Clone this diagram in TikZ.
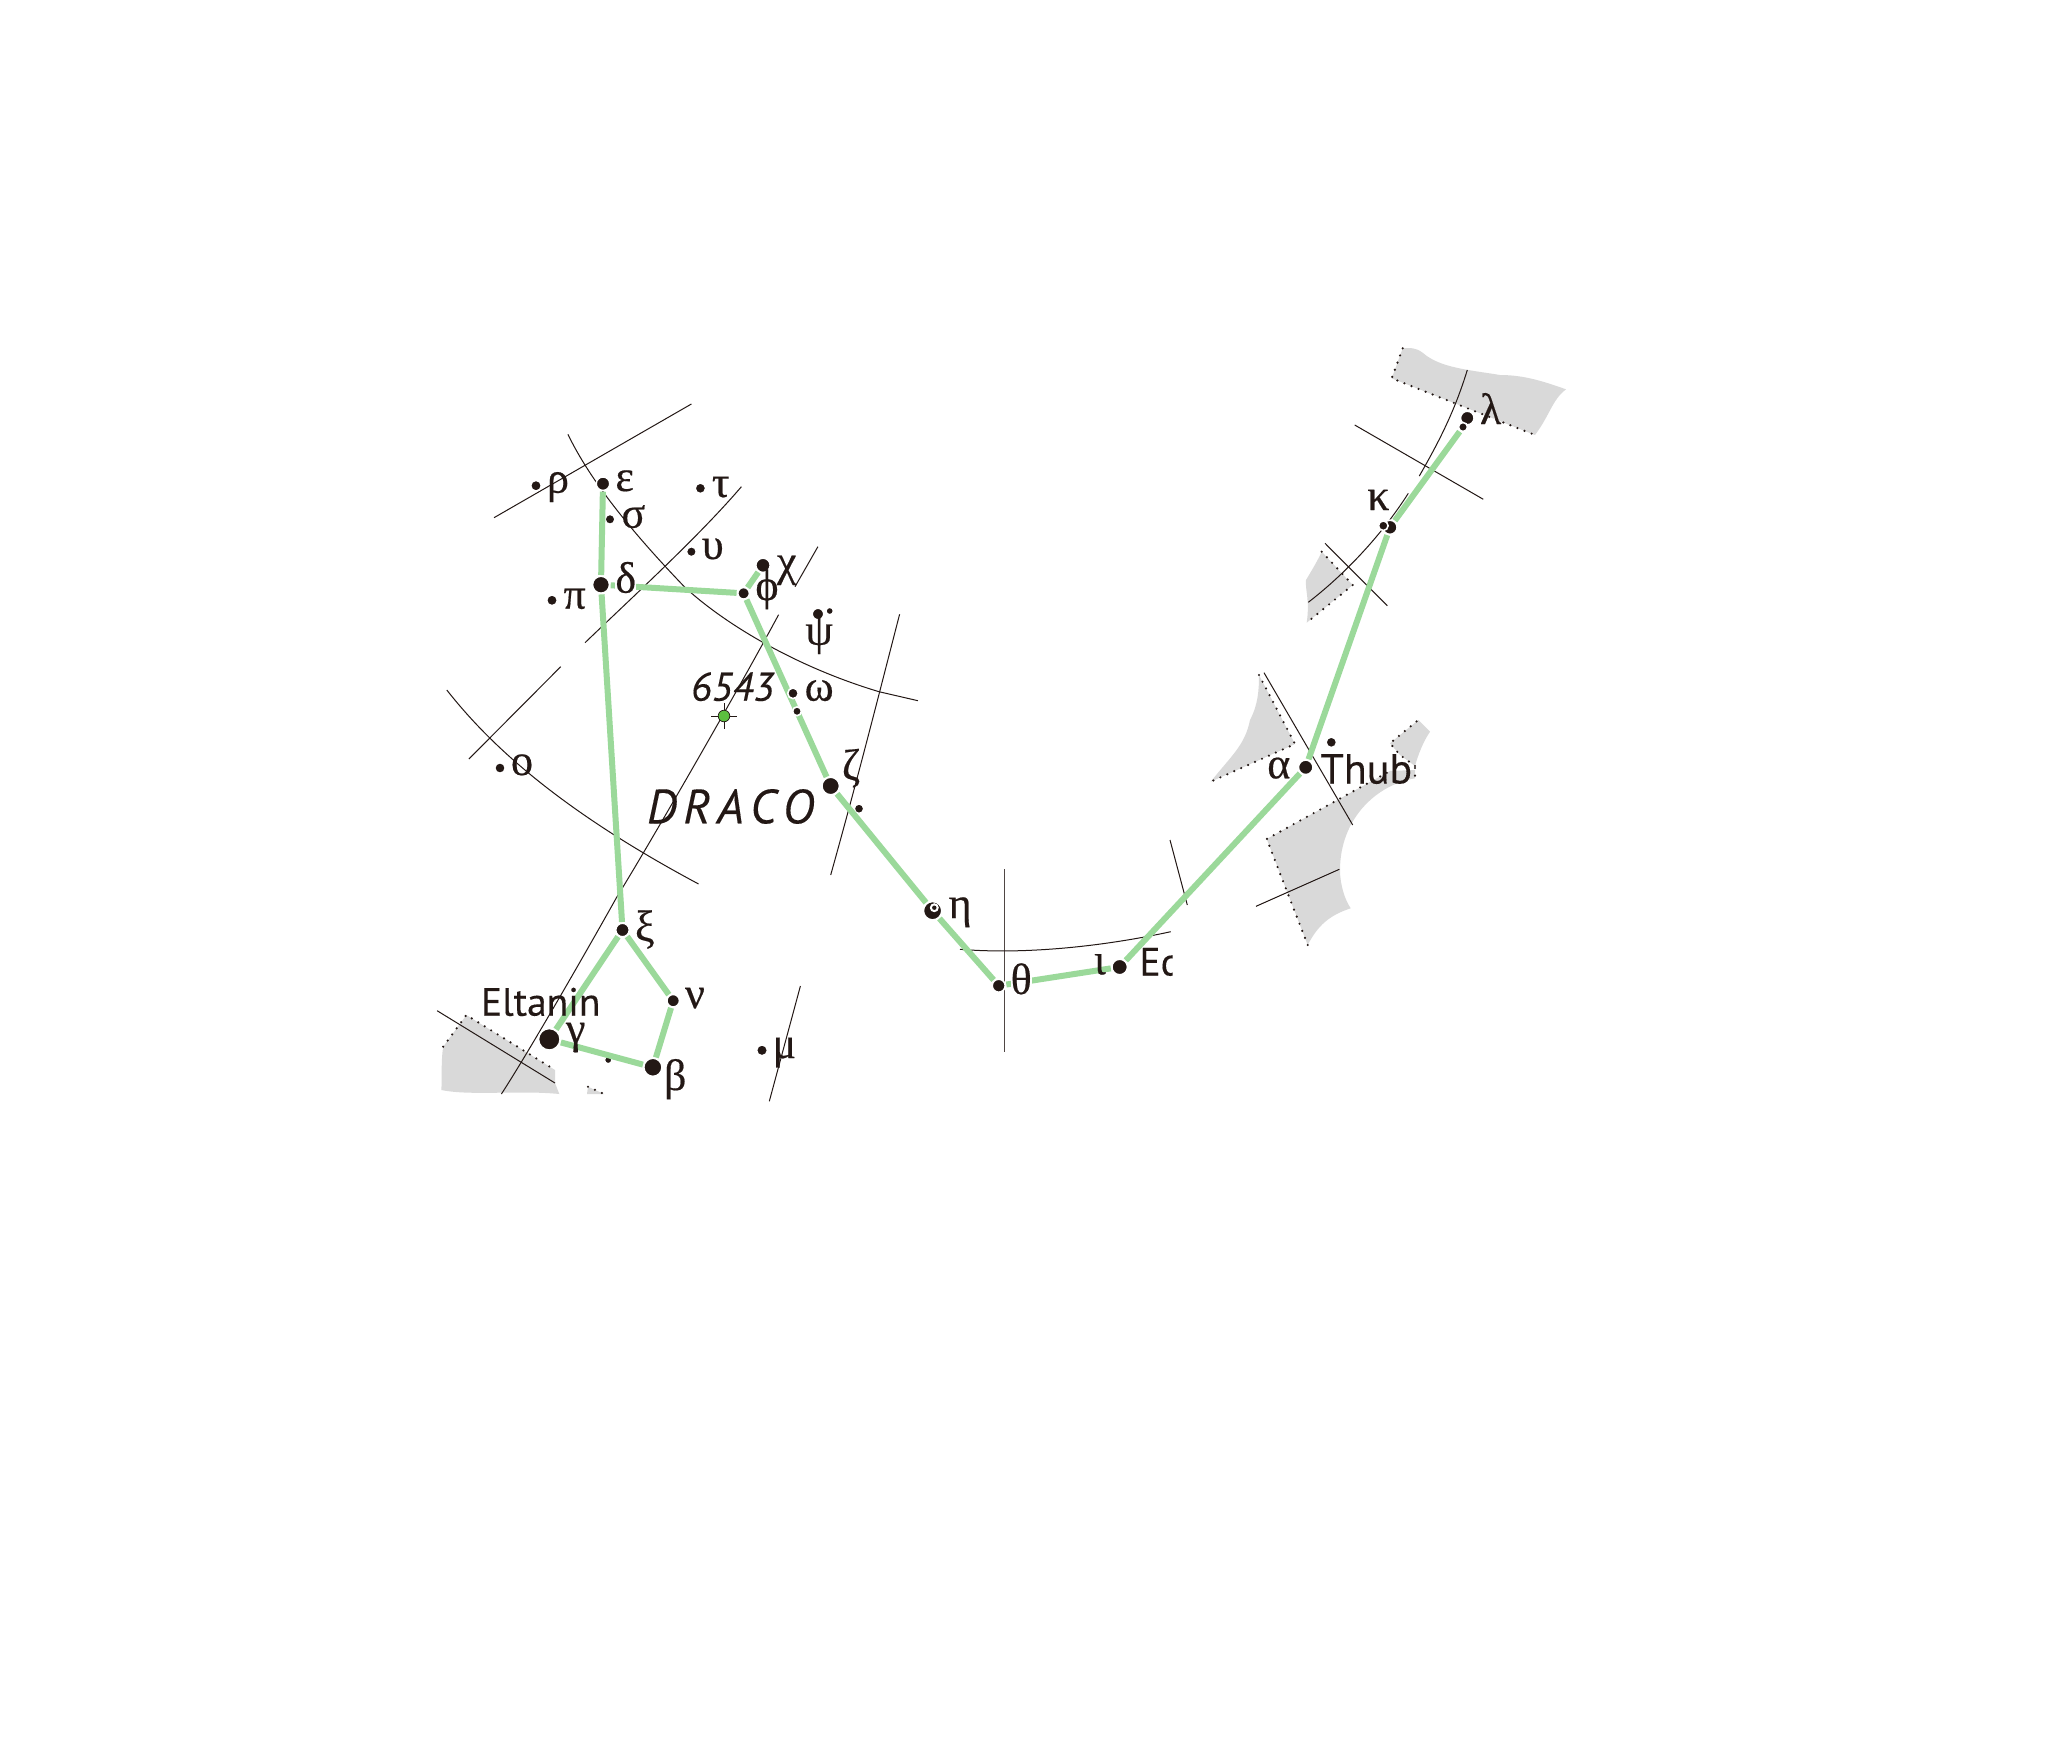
\documentclass[tikz,border=0pt]{standalone}
\usepackage{fontspec}
\setmainfont{Liberation Serif}
\newfontfamily\greekfont[FakeBold=0.4]{Liberation Serif}
\newfontfamily\namefont[FakeBold=0.25]{PT Sans}
\newfontfamily\italfont[FakeBold=0.25]{PT Sans Italic}
\definecolor{ink}{HTML}{231815}
\definecolor{shade}{HTML}{D9D9D9}
\definecolor{linkgreen}{HTML}{9BD99A}
\definecolor{novagreen}{HTML}{5CBF3F}
\tikzset{
  x=1pt,y=-1pt,
  stardot/.style={circle,fill=ink,draw=white,line width=1.6pt,inner sep=0pt,outer sep=1.2pt,minimum size=2*#1*1pt+1.6pt},
  link/.style={draw=linkgreen,line width=6pt},
  thin line/.style={draw=ink,line width=1pt},
  cell/.style={fill=shade},
  rim/.style={draw=ink,line width=2.4pt,line cap=round,dash pattern=on 0pt off 7.6pt},
  greek/.style={anchor=base west,inner sep=0pt,outer sep=0pt,text=ink,font=\greekfont\fontsize{44}{44}\selectfont},
  starname/.style={anchor=base west,inner sep=0pt,outer sep=0pt,text=ink,font=\namefont\fontsize{39.5}{39.5}\selectfont},
  catalog/.style={anchor=base west,inner sep=0pt,outer sep=0pt,text=ink,font=\italfont\fontsize{40}{40}\selectfont},
}
\begin{document}
\begin{tikzpicture}
\useasboundingbox (0,0) rectangle (2046,1761);
\fill[white] (0,0) rectangle (2046,1761);
% shaded cells
\fill[cell] (466.4,1015) -- (443.2,1046.7) .. controls (441,1060) and (442,1075) .. (441.4,1090) .. controls (470,1096) and (520,1090) .. (559.3,1094) -- (555,1083) -- (555,1070) -- cycle;
\draw[rim] (443.2,1046.7) -- (466.4,1015) -- (555,1070);
\fill[cell] (588,1086.7) -- (604,1094) -- (587,1094) -- cycle;
\draw[rim] (588,1086.7) -- (604,1094);
\fill[cell] (1259,675) -- (1295,744) -- (1210.7,781.7) .. controls (1232,755) and (1245,745) .. (1250,720) .. controls (1258,705) and (1259,690) .. (1259,675) -- cycle;
\draw[rim] (1259,675) -- (1295,744) -- (1210.7,781.7);
\fill[cell] (1266.7,839) -- (1390,771) -- (1415,770) -- (1415,778.3) .. controls (1375,785) and (1340,820) .. (1340,870) .. controls (1340,885) and (1345,900) .. (1350.7,908.3) .. controls (1330,915) and (1318,925) .. (1307.7,945) -- cycle;
\draw[rim] (1307.7,945) -- (1266.7,839) -- (1390,771);
\fill[cell] (1390,743.3) -- (1418.3,720) -- (1430,731.7) .. controls (1423,742) and (1418,755) .. (1415,766) -- (1400,755) -- cycle;
\draw[rim] (1415,766) -- (1400,755) -- (1390,743.3) -- (1418.3,720);
\draw[rim] (1415,768) -- (1415,776);
\fill[cell] (1402.7,348.3) -- (1391.7,378.3) -- (1535,435) .. controls (1550,415) and (1552,400) .. (1566,389.3) .. controls (1545,382) and (1525,375) .. (1500,375) .. controls (1470,370) and (1440,368) .. (1423,353) .. controls (1415,347) and (1410,348) .. (1402.7,348.3) -- cycle;
\draw[rim] (1402.7,348.3) -- (1391.7,378.3) -- (1535,435);
\fill[cell] (1321.7,551.7) -- (1352.7,585) -- (1306.7,622.7) .. controls (1310,600) and (1305,590) .. (1306,580) .. controls (1312,570) and (1318,560) .. (1321.7,551.7) -- cycle;
\draw[rim] (1321.7,551.7) -- (1352.7,585) -- (1306.7,622.7);
% chart lines
\draw[thin line] (494,517.7) -- (691.4,404);
\draw[thin line] (567.9,434.3) .. controls (590,480) and (630,530) .. (684.3,586.7) .. controls (720,620) and (790,665) .. (879,691.7) -- (917.9,700.7);
\draw[thin line] (741.4,486.7) .. controls (700,535) and (640,590) .. (585,642.7);
\draw[thin line] (817.9,546.7) -- (795,586.7);
\draw[thin line] (778.6,614.7) .. controls (730,705) and (640,860) .. (617,896.7) .. controls (590,945) and (530,1050) .. (501.4,1094);
\draw[thin line] (899.6,614.3) .. controls (880,690) and (860,770) .. (830.7,875);
\draw[thin line] (446.8,690) .. controls (490,745) and (560,810) .. (698.6,884);
\draw[thin line] (560.7,666.7) -- (468.9,759);
\draw[thin line] (800.4,986) -- (769.3,1101.3);
\draw[thin line] (437.1,1010.7) -- (555,1083);
\draw[thin line,line width=1.3pt,draw=ink!80] (1004.7,869.3) -- (1004.7,1052);
\draw[thin line] (960,949.3) .. controls (1030,955) and (1110,945) .. (1170.7,931.7);
\draw[thin line] (1170,840) -- (1187.3,905);
\draw[thin line] (1264,672.7) -- (1352.7,825);
\draw[thin line] (1256,906.3) -- (1339.3,869.3);
\draw[thin line] (1467.3,370) .. controls (1455,410) and (1440,440) .. (1419.3,476);
\draw[thin line] (1408.3,493.3) .. controls (1385,530) and (1350,570) .. (1308.3,602.3);
\draw[thin line] (1354.7,425) -- (1483.3,499.3);
\draw[thin line] (1325,543.3) -- (1387.3,605.7);
% stars
\node[stardot=4.6] (rho) at (536,485.7) {};
\node[stardot=6] (eps) at (603,483.7) {};
\node[stardot=4.2] (sig) at (610,519.3) {};
\node[stardot=4.5] (tau) at (700.4,488.3) {};
\node[stardot=4.2] (ups) at (691.4,551.7) {};
\node[stardot=6.4] (chi) at (763,565.3) {};
\node[stardot=5] (phi) at (743.6,593.3) {};
\node[stardot=7.7] (del) at (601,584.7) {};
\node[stardot=4.6] (pi) at (552,600.3) {};
\node[stardot=5] (psi) at (818,614) {};
\node[stardot=3] (psib) at (829.7,611) {};
\node[stardot=4.5] (omi) at (500,768) {};
\node[stardot=8] (zet) at (830.7,786) {};
\node[stardot=4] (zetb) at (859,808.7) {};
\node[stardot=6] (xi) at (622.5,930) {};
\node[stardot=5.5] (nu) at (673.2,1000.7) {};
\node[stardot=10] (gam) at (549.3,1039.3) {};
\node[stardot=8.3] (bet) at (652.9,1067.3) {};
\node[stardot=3] (betb) at (608.2,1060) {};
\node[stardot=4.7] (mu) at (762,1050.3) {};
\node[stardot=8.4] (eta) at (932.6,910.7) {};
\node[circle,fill=white,inner sep=0pt,minimum size=9pt] (etaw) at (934.3,907.7) {};
\node[circle,fill=ink,inner sep=0pt,minimum size=4.4pt] (etai) at (934.3,907.7) {};
\node[stardot=5.7] (the) at (998.7,985.7) {};
\node[stardot=7] (iot) at (1119.7,967) {};
\node[stardot=6.5] (alp) at (1305.7,767.3) {};
\node[stardot=4.5] (alpb) at (1331.3,742.3) {};
\node[stardot=6.3] (kap) at (1390,527.3) {};
\node[stardot=6] (lam) at (1467.3,418) {};
\node[stardot=3.7] (lamb) at (1463,427) {};
% 6543
\draw[thin line] (711,716) -- (737,716) (724,703) -- (724,729);
\node[circle,fill=novagreen,draw=ink,line width=0.7pt,inner sep=0pt,minimum size=11.6pt] (nova) at (724,716) {};
% figure
\draw[link] (eps) -- (del);
\draw[link] (del) -- (phi);
\draw[link] (phi) -- (chi);
\draw[link] (phi) -- (zet);
\draw[link] (zet) -- (eta);
\draw[link] (eta) -- (the);
\draw[link] (the) -- (iot);
\draw[link] (iot) -- (alp);
\draw[link] (alp) -- (kap);
\draw[link] (kap) -- (lamb);
\draw[link] (del) -- (xi);
\draw[link] (xi) -- (gam);
\draw[link] (xi) -- (nu);
\draw[link] (nu) -- (bet);
\draw[link] (bet) -- (gam);
% stars lying on the figure
\node[stardot=4.5] (ome) at (793,693.3) {};
\node[stardot=3.6] (omeb) at (797,711.3) {};
\node[stardot=4] (kapb) at (1383.3,525.7) {};
% labels
\node[greek] (Lrho) at (547,492.7) {ρ};
\node[greek] (Leps) at (615.4,491) {ε};
\node[greek] (Lsig) at (621.5,527.7) {σ};
\node[greek] (Ltau) at (711.9,497) {τ};
\node[greek] (Lups) at (701.9,559) {υ};
\node[greek] (Lchi) at (777,575.7) {χ};
\node[greek] (Lphi) at (755.4,600) {ϕ};
\node[greek,fill=white] (Ldel) at (615.4,592.7) {δ};
\node[greek] (Lpi) at (563.6,608.7) {π};
\node[greek] (Lpsi) at (805.4,644.7) {ψ};
\node[greek] (Lome) at (804.7,700.7) {ω};
\node[greek] (Lomi) at (511,775) {ο};
\node[greek] (Lzet) at (842,779.7) {ζ};
\node[greek] (Lxi) at (635,941) {ξ};
\node[greek] (Lnu) at (685,1008) {ν};
\node[greek] (Lgam) at (566,1043) {γ};
\node[greek] (Lbet) at (664,1090) {β};
\node[greek] (Lmu) at (772.6,1058) {μ};
\node[greek] (Leta) at (948.6,918) {η};
\node[greek,fill=white] (Lthe) at (1010.7,994) {θ};
\node[greek] (Liot) at (1094,974.3) {ι};
\node[greek] (Lalp) at (1267.3,778.3) {α};
\node[greek] (Llam) at (1480,424) {λ};
\node[greek] (Lkap) at (1367.3,510) {κ};
\node[starname] (Lelt) at (481,1015.7) {Eltanin};
\node[catalog] (Lnum) at (691,700.7) {6543};
\node[catalog,font=\italfont\fontsize{48}{48}\selectfont] (Ldra) at (647,823.3) {D\kern6.5pt R\kern6.5pt A\kern6.5pt C\kern6.5pt O};
\node[starname,font=\namefont\fontsize{42}{42}\selectfont] (Lthu) at (1320.5,783.5) {Thub};
\begin{scope}
\clip (1130,930) rectangle (1172.5,990);
\node[starname] (Ledd) at (1139.5,975.5) {Ed};
\end{scope}
\end{tikzpicture}
\end{document}
